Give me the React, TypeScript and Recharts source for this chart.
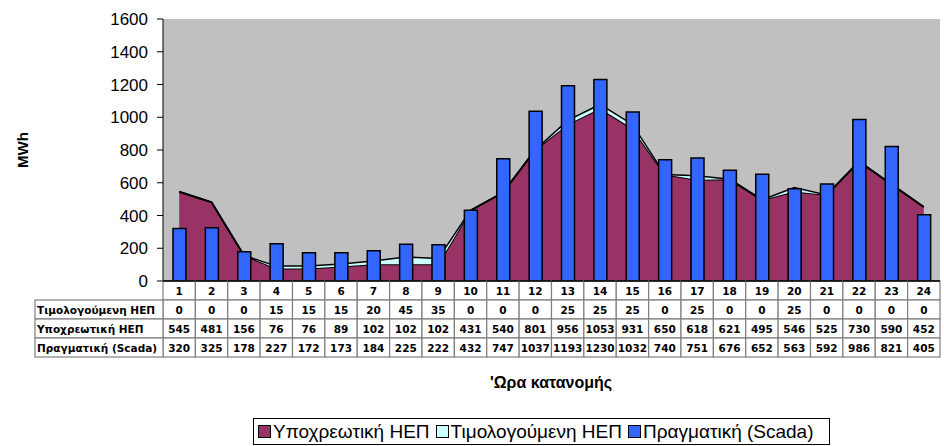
import {
  ComposedChart, Area, Bar, XAxis, YAxis, CartesianGrid
} from "recharts"

// --- data ---
const HOURS = [1, 2, 3, 4, 5, 6, 7, 8, 9, 10, 11, 12, 13, 14, 15, 16, 17, 18, 19, 20, 21, 22, 23, 24]
const TIMOLOGOUMENI = [0, 0, 0, 15, 15, 15, 20, 45, 35, 0, 0, 0, 25, 25, 25, 0, 25, 0, 0, 25, 0, 0, 0, 0]
const YPOXREOTIKI = [545, 481, 156, 76, 76, 89, 102, 102, 102, 431, 540, 801, 956, 1053, 931, 650, 618, 621, 495, 546, 525, 730, 590, 452]
const SCADA = [320, 325, 178, 227, 172, 173, 184, 225, 222, 432, 747, 1037, 1193, 1230, 1032, 740, 751, 676, 652, 563, 592, 986, 821, 405]
const Y_TICKS = [0, 200, 400, 600, 800, 1000, 1200, 1400, 1600]

const NAME_TIM = "Τιμολογούμενη ΗΕΠ"
const NAME_YPO = "Υποχρεωτική ΗΕΠ"
const NAME_SCADA = "Πραγματική (Scada)"

const data = HOURS.map((h, i) => ({
  hour: h,
  tim: TIMOLOGOUMENI[i],
  ypo: YPOXREOTIKI[i],
  scada: SCADA[i],
}))

// layout
const W = 944
const H = 446
const PLOT_LEFT = 163
const PLOT_RIGHT = 940
const PLOT_TOP = 19
const PLOT_BOTTOM = 281
const CELL_W = (PLOT_RIGHT - PLOT_LEFT) / HOURS.length
const ROW_H = 19
const LABEL_LEFT = 35

const C_YPO = "#993366"
const C_TIM = "#CCFFFF"
const C_SCADA = "#3366FF"
const GRID_LINE = "#7f7f7f"
const TABLE_FONT = "'DejaVu Sans', Verdana, sans-serif"
const ARIAL = "'Liberation Sans', Arial, sans-serif"

const rowLabels = [NAME_TIM, NAME_YPO, NAME_SCADA]
const rowValues = [TIMOLOGOUMENI, YPOXREOTIKI, SCADA]

// data table drawn as the x-axis tick, one column per category
const TableTick = (props: any) => {
  const { x, payload } = props
  const i = payload.index
  const left = x - CELL_W / 2
  const cells = [String(HOURS[i]), ...rowValues.map(r => String(r[i]))]
  return (
    <g>
      {cells.map((txt, r) => (
        <g key={r}>
          <rect x={left} y={PLOT_BOTTOM + r * ROW_H} width={CELL_W} height={ROW_H}
            fill="#fff" stroke={GRID_LINE} strokeWidth={1.2} />
          <text x={x} y={PLOT_BOTTOM + r * ROW_H + 14} textAnchor="middle"
            fontFamily={TABLE_FONT} fontWeight={700} fontSize={10.5} fill="#000">
            {txt}
          </text>
        </g>
      ))}
      {i === 0 && rowLabels.map((lbl, r) => (
        <g key={"l" + r}>
          <rect x={LABEL_LEFT} y={PLOT_BOTTOM + (r + 1) * ROW_H}
            width={PLOT_LEFT - LABEL_LEFT} height={ROW_H}
            fill="#fff" stroke={GRID_LINE} strokeWidth={1.2} />
          <text x={LABEL_LEFT + 2} y={PLOT_BOTTOM + (r + 1) * ROW_H + 14}
            fontFamily={TABLE_FONT} fontWeight={700} fontSize={10.5} fill="#000">
            {lbl}
          </text>
        </g>
      ))}
      {/* x axis line over the header row */}
      <line x1={left} x2={left + CELL_W} y1={PLOT_BOTTOM} y2={PLOT_BOTTOM} stroke="#000" strokeWidth={1.5} />
    </g>
  )
}

const legendItems = [
  { name: NAME_YPO, color: C_YPO },
  { name: NAME_TIM, color: C_TIM },
  { name: NAME_SCADA, color: C_SCADA },
]

export default function App() {
  return (
    <div style={{ position: "absolute", left: 0, top: 0, width: W, height: H, background: "#fff" }}>
      <ComposedChart width={W} height={H} data={data}
        margin={{ top: PLOT_TOP, right: W - PLOT_RIGHT, bottom: 0, left: 0 }}
        barCategoryGap="30%">
        <CartesianGrid fill="#C0C0C0" horizontal={false} vertical={false} />
        <XAxis dataKey="hour" stroke="#000" tickLine={false} interval={0}
          tick={<TableTick />} height={H - PLOT_BOTTOM} />
        <YAxis width={PLOT_LEFT} domain={[0, 1600]} ticks={Y_TICKS} interval={0}
          stroke="#000" tickSize={6} tickMargin={9}
          tick={{ fill: "#000", fontSize: 17, fontFamily: ARIAL }} />

        <Area type="linear" dataKey="ypo" name={NAME_YPO} stackId="a"
          fill={C_YPO} fillOpacity={1} stroke="#000" strokeWidth={2} isAnimationActive={false} />
        <Area type="linear" dataKey="tim" name={NAME_TIM} stackId="a"
          fill={C_TIM} fillOpacity={1} stroke="#000" strokeWidth={1.5} isAnimationActive={false} />
        <Bar dataKey="scada" name={NAME_SCADA} barSize={13}
          fill={C_SCADA} stroke="#000" strokeWidth={1.5} isAnimationActive={false} />
      </ComposedChart>

      {/* y axis title */}
      <div style={{
        position: "absolute", left: 22, top: 150, transform: "translate(-50%, -50%) rotate(-90deg)",
        fontFamily: ARIAL, fontWeight: 700, fontSize: 15
      }}>MWh</div>

      {/* x axis title */}
      <div style={{
        position: "absolute", left: 551, top: 383, transform: "translate(-50%, -50%)",
        fontFamily: ARIAL, fontWeight: 700, fontSize: 16, whiteSpace: "nowrap"
      }}>'Ωρα κατανομής</div>

      {/* legend */}
      <div style={{
        position: "absolute", left: 253, top: 418, width: 577, height: 27,
        border: "1px solid #000", boxSizing: "border-box", display: "flex", alignItems: "center",
        paddingLeft: 4, gap: 6,
        fontFamily: ARIAL, fontSize: 19, whiteSpace: "nowrap"
      }}>
        {legendItems.map(it => (
          <span key={it.name} style={{ display: "flex", alignItems: "center", gap: 2 }}>
            <span style={{
              display: "inline-block", width: 11, height: 11, background: it.color,
              border: "1px solid #000"
            }} />
            {it.name}
          </span>
        ))}
      </div>
    </div>
  )
}
